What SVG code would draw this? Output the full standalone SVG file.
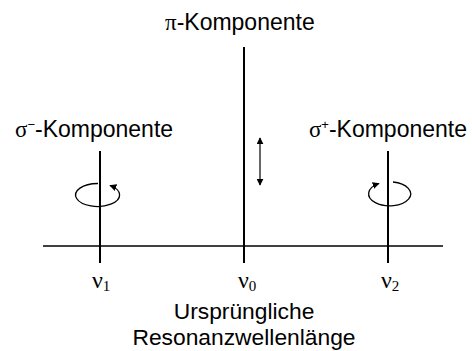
<svg xmlns="http://www.w3.org/2000/svg" width="472" height="351" viewBox="0 0 472 351">
<style>
.lbl{font-family:"Liberation Sans",Arial,sans-serif;font-size:23px;fill:#000}
.cap{font-family:"Liberation Sans",Arial,sans-serif;font-size:22.8px;fill:#000}
.gr{font-family:"Liberation Serif","Times New Roman",serif}
.nu{font-family:"Liberation Serif","Times New Roman",serif;font-size:24px;fill:#000}
.sub{font-size:15px}
.ln{stroke:#000;fill:none}
</style>
<defs>
<marker id="ah" viewBox="0 0 10 10" refX="9" refY="5" markerWidth="7" markerHeight="7" markerUnits="userSpaceOnUse" orient="auto-start-reverse">
<path d="M0,0 L10,5 L0,10 z" fill="#000"/>
</marker>
</defs>
<g id="connectors">
<line class="ln" x1="43" y1="246" x2="443" y2="246" stroke-width="1.3"/>
<line class="ln" x1="100" y1="151" x2="100" y2="263" stroke-width="2"/>
<line class="ln" x1="244" y1="47" x2="244" y2="263" stroke-width="2"/>
<line class="ln" x1="388" y1="151" x2="388" y2="263" stroke-width="2"/>
<line class="ln" x1="260" y1="138" x2="260" y2="185" stroke-width="1.2" marker-start="url(#ah)" marker-end="url(#ah)"/>
<path class="ln" d="M98,183.5 A22 11.5 0 1 0 110,185.5" stroke-width="1.3" marker-end="url(#ah)"/>
<path class="ln" d="M393,182 A21 12 0 1 1 379,183.5" stroke-width="1.3" marker-end="url(#ah)"/>
</g>
<g id="pi">
<text class="lbl" x="165" y="30"><tspan class="gr">π</tspan>-Komponente</text>
</g>
<g id="sigma-minus">
<text class="lbl" x="15" y="137"><tspan class="gr">σ</tspan><tspan dy="-8" font-size="13">−</tspan><tspan dy="8">-Komponente</tspan></text>
</g>
<g id="sigma-plus">
<text class="lbl" x="467" y="137" text-anchor="end"><tspan class="gr">σ</tspan><tspan dy="-8" font-size="13">+</tspan><tspan dy="8">-Komponente</tspan></text>
</g>
<g id="nu1"><text class="nu" x="92" y="288">ν<tspan class="sub" dy="3">1</tspan></text></g>
<g id="nu0"><text class="nu" x="238" y="288">ν<tspan class="sub" dy="3">0</tspan></text></g>
<g id="nu2"><text class="nu" x="381" y="288">ν<tspan class="sub" dy="3">2</tspan></text></g>
<g id="caption">
<text class="cap" x="244" y="319" text-anchor="middle">Ursprüngliche</text>
<text class="cap" x="244" y="345" text-anchor="middle">Resonanzwellenlänge</text>
</g>
</svg>
